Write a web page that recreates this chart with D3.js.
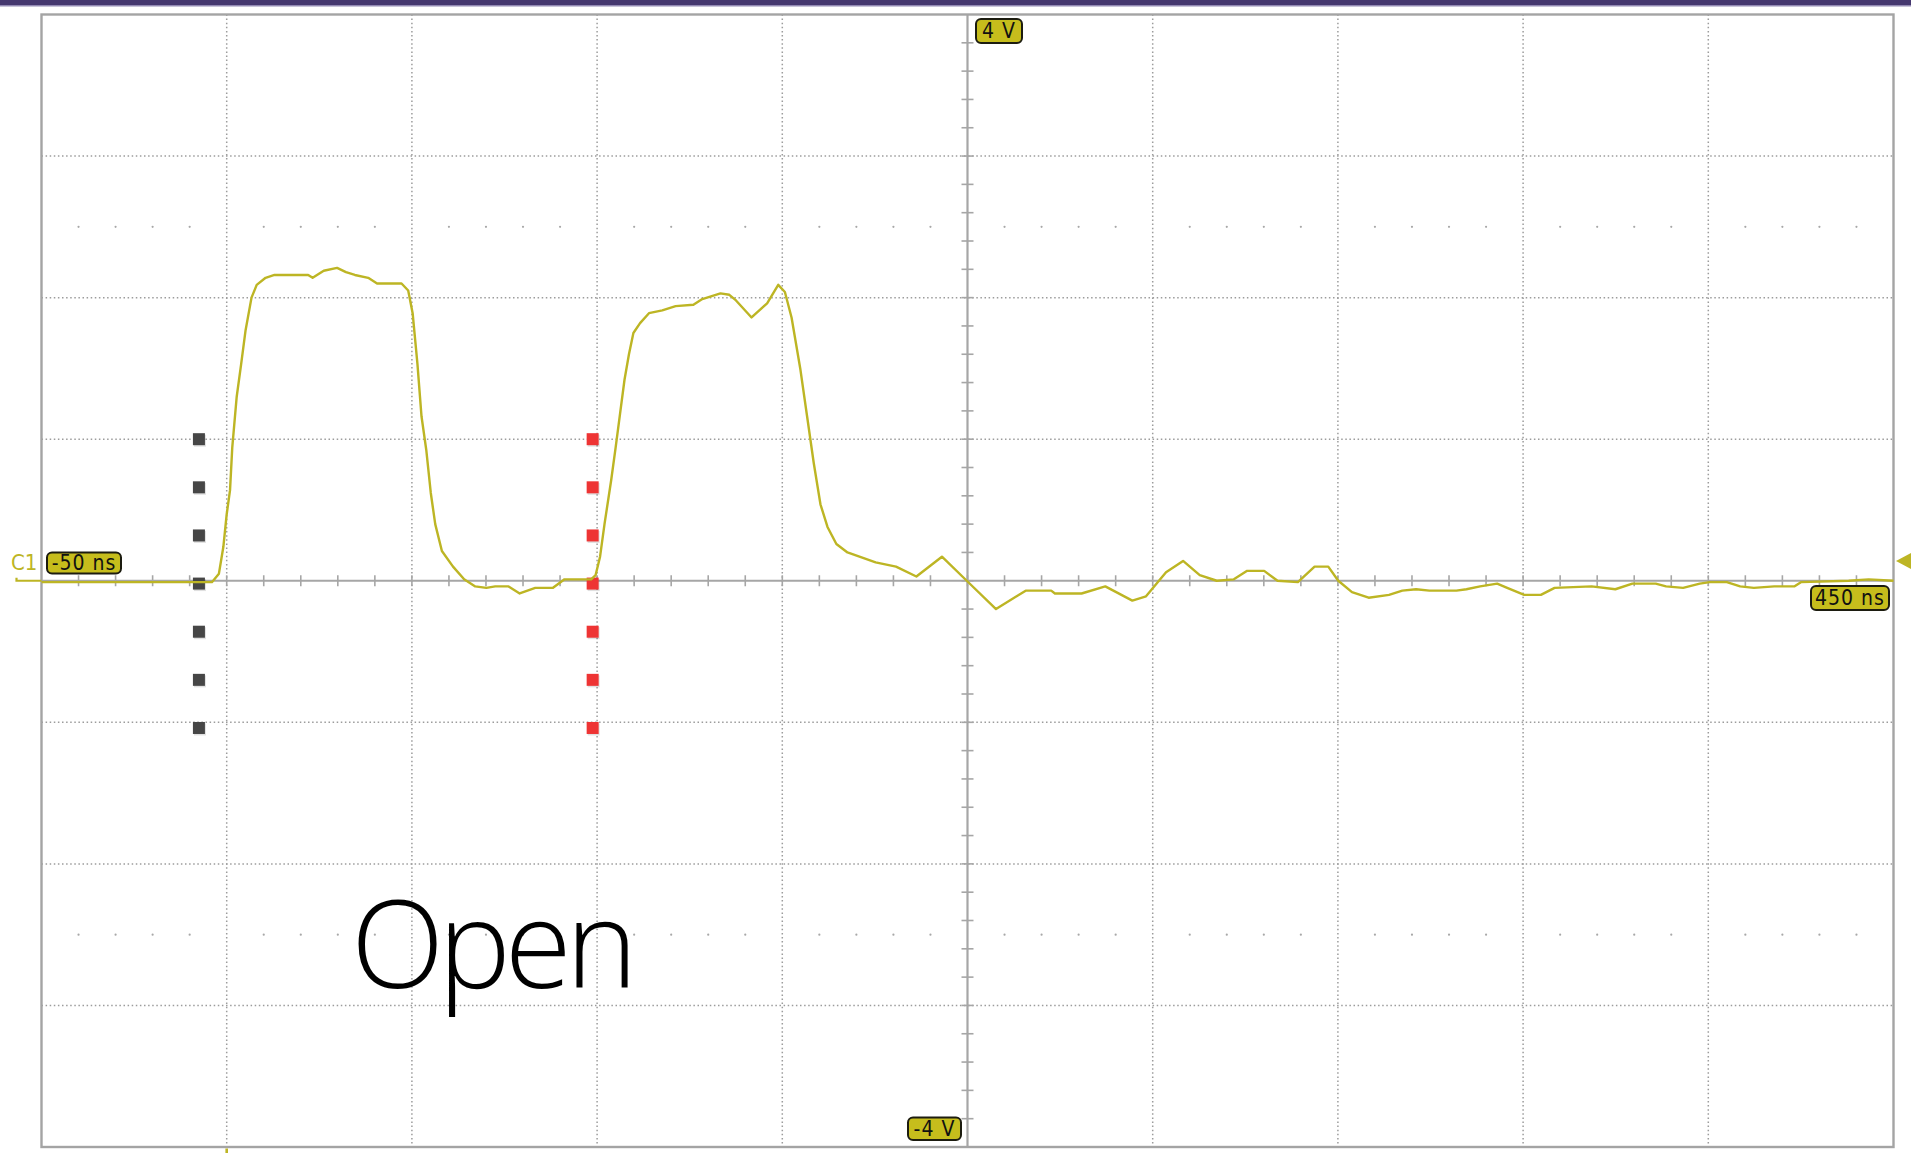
<!DOCTYPE html>
<html>
<head>
<meta charset="utf-8">
<script src="https://cdn.jsdelivr.net/npm/d3@7/dist/d3.min.js"></script>
<style>
  html, body { margin: 0; padding: 0; background: #ffffff; }
  svg { display: block; }
</style>
</head>
<body>
<svg id="chart" width="1911" height="1153"></svg>
<script>
// ---------- data ----------
const timeDomainNs = [-50, 450];          // horizontal span of the screen
const voltDomain = [-4, 4];               // vertical span of the screen
const timeDivisionsNs = [-50, 0, 50, 100, 150, 200, 250, 300, 350, 400, 450];
const voltDivisions = [-4, -3, -2, -1, 0, 1, 2, 3, 4];

const timeNs = [-50, -4, -2.1, -0.9, 0, 0.9, 1.5, 2.7, 3.9, 5.1, 6.7, 8.1, 10.5, 12.9, 22, 23.2, 26.2, 29.8, 32.2, 34.6,
  38.2, 40.6, 47.2, 49.0, 50.2, 51.5, 52.6, 53.9, 55.1, 56.3, 58.1, 61.1, 64.1, 67.1, 70.1, 72.5, 76.1, 79.1, 83.3, 88.1,
  91.2, 98.4, 99.6, 100.8, 102, 103.8, 105, 106.2, 107.4, 108.6, 109.8, 111.6, 114, 117.6, 121.2, 126, 128.4, 133.3, 135.7, 137.5,
  141.7, 145.9, 148.9, 150.7, 152.5, 154.9, 156.7, 158.5, 160.3, 162.2, 164.6, 167.6, 175.2, 180.7, 186.2, 193.1, 199.8, 207.7, 215.7, 222.6,
  223.6, 230.8, 237.2, 244.5, 248.2, 253.6, 258.2, 262.7, 267.3, 271.9, 275.5, 280.1, 283.7, 289.2, 293.7, 297.4, 300.1, 303.8, 308.3, 313.8,
  317.4, 321.1, 324.7, 332, 334.7, 338.4, 343, 345.7, 350.3, 354.8, 358.5, 368.5, 374.9, 379.5, 385.8, 388.6, 393.2, 397.7, 400.4, 405,
  408.6, 412.3, 417.8, 423.2, 425, 437.9, 443.3, 450];
const voltsC1 = [-0.01, -0.01, 0.05, 0.24, 0.47, 0.64, 0.94, 1.30, 1.53, 1.77, 2.00, 2.09, 2.14, 2.16, 2.16, 2.14, 2.19, 2.21, 2.18, 2.16,
  2.14, 2.10, 2.10, 2.05, 1.89, 1.53, 1.16, 0.92, 0.62, 0.40, 0.21, 0.10, 0.01, -0.04, -0.05, -0.04, -0.04, -0.09, -0.05, -0.05,
  0.01, 0.01, 0.04, 0.17, 0.40, 0.71, 0.94, 1.18, 1.42, 1.60, 1.75, 1.82, 1.89, 1.91, 1.94, 1.95, 1.99, 2.03, 2.02, 1.98,
  1.86, 1.96, 2.09, 2.04, 1.86, 1.49, 1.16, 0.83, 0.54, 0.38, 0.26, 0.20, 0.13, 0.10, 0.03, 0.17, 0.00, -0.20, -0.07, -0.07,
  -0.09, -0.09, -0.04, -0.14, -0.11, 0.06, 0.14, 0.04, 0.00, 0.01, 0.07, 0.07, 0.00, -0.01, 0.10, 0.10, 0.00, -0.08, -0.12, -0.10,
  -0.07, -0.06, -0.07, -0.07, -0.06, -0.04, -0.02, -0.05, -0.10, -0.10, -0.05, -0.04, -0.06, -0.02, -0.02, -0.04, -0.05, -0.02, -0.01, -0.01,
  -0.04, -0.05, -0.04, -0.04, -0.01, 0.00, 0.01, 0.00];

const markerTimesNs = [-7.5, 98.8];           // dotted marker columns
const markerColors = ["#464646", "#ee3434"];
const markerLevelsV = [1.0, 0.66, 0.32, -0.02, -0.36, -0.70, -1.04];

const triggerLevelV = 0.14;
const triggerTimeNs = 0;
const labelTopV = "4 V";
const labelBottomV = "-4 V";
const labelLeftTime = "-50 ns";
const labelRightTime = "450 ns";
const channelName = "C1";
const annotationText = "Open";

// ---------- layout ----------
const svg = d3.select("#chart");
const plotL = 41.5, plotR = 1893.5, plotT = 14.5, plotB = 1147;
const x = d3.scaleLinear().domain(timeDomainNs).range([plotL, plotR]);
const y = d3.scaleLinear().domain(voltDomain).range([plotB, plotT]);

const traceColor = "#bdb524";
const gridColor = "#9c9c9c";
const axisColor = "#a6a6a6";

// top purple band
svg.append("rect").attr("x", 0).attr("y", 0).attr("width", 1911).attr("height", 5).attr("fill", "#45386f");
svg.append("rect").attr("x", 0).attr("y", 5).attr("width", 1911).attr("height", 1.5).attr("fill", "#9289b3");

// dotted grid (vertical)
svg.append("g").selectAll("line").data(timeDivisionsNs.slice(1, -1).filter(t => t !== 200))
  .join("line")
  .attr("x1", d => x(d)).attr("x2", d => x(d)).attr("y1", plotT).attr("y2", plotB)
  .attr("stroke", gridColor).attr("stroke-width", 1.5).attr("stroke-dasharray", "1.5,2.6");
// dotted grid (horizontal)
svg.append("g").selectAll("line").data(voltDivisions.slice(1, -1).filter(v => v !== 0))
  .join("line")
  .attr("y1", d => y(d)).attr("y2", d => y(d)).attr("x1", plotL).attr("x2", plotR)
  .attr("stroke", gridColor).attr("stroke-width", 1.5).attr("stroke-dasharray", "1.5,2.6");

// rows of sparse dots at +/-2.5 div
const dotTimes = d3.range(-40, 450, 10).filter(t => Math.abs(t % 50) > 1e-6);
[2.5, -2.5].forEach(v => {
  svg.append("g").selectAll("circle").data(dotTimes).join("circle")
    .attr("cx", d => x(d)).attr("cy", y(v)).attr("r", 1.1).attr("fill", "#a8a8a8");
});

// center axes with minor ticks
const cx = x(200), cy = y(0);
svg.append("line").attr("x1", plotL).attr("x2", plotR).attr("y1", cy).attr("y2", cy)
  .attr("stroke", axisColor).attr("stroke-width", 2.2);
svg.append("line").attr("x1", cx).attr("x2", cx).attr("y1", plotT).attr("y2", plotB)
  .attr("stroke", axisColor).attr("stroke-width", 2.2);
const minorT = d3.range(-40, 450, 10);
svg.append("g").selectAll("line").data(minorT).join("line")
  .attr("x1", d => x(d)).attr("x2", d => x(d)).attr("y1", cy - 5.5).attr("y2", cy + 5.5)
  .attr("stroke", axisColor).attr("stroke-width", 1.6);
const minorV = d3.range(-3.8, 4, 0.2);
svg.append("g").selectAll("line").data(minorV).join("line")
  .attr("y1", d => y(d)).attr("y2", d => y(d)).attr("x1", cx - 6).attr("x2", cx + 6)
  .attr("stroke", axisColor).attr("stroke-width", 1.6);

// border
svg.append("rect").attr("x", plotL).attr("y", plotT).attr("width", plotR - plotL).attr("height", plotB - plotT)
  .attr("fill", "none").attr("stroke", "#a4a4a4").attr("stroke-width", 2.4);

// annotation text
svg.append("text").attr("x", 351).attr("y", 988)
  .attr("font-family", "'Open Sans', 'Noto Sans', sans-serif").attr("font-weight", 300)
  .attr("font-size", 122).attr("letter-spacing", -6).attr("fill", "#000").text(annotationText);

// marker squares
markerTimesNs.forEach((t, i) => {
  const g = svg.append("g");
  g.selectAll("rect.sh").data(markerLevelsV).join("rect").attr("class", "sh")
    .attr("x", x(t) - 5).attr("y", d => y(d) - 4.5).attr("width", 12).attr("height", 12)
    .attr("fill", "#000").attr("opacity", 0.12);
  g.selectAll("rect.m").data(markerLevelsV).join("rect").attr("class", "m")
    .attr("x", x(t) - 6).attr("y", d => y(d) - 6).attr("width", 12).attr("height", 12)
    .attr("fill", markerColors[i]);
});

// trace
const pts = timeNs.map((t, i) => [t, voltsC1[i]]);
svg.append("path").datum(pts)
  .attr("d", d3.line().x(d => x(d[0])).y(d => y(d[1])))
  .attr("fill", "none").attr("stroke", traceColor).attr("stroke-width", 2.4)
  .attr("stroke-linejoin", "round");

// ground marker left of screen + channel name
svg.append("path").attr("d", `M16.5,${cy - 3}V${cy}H${plotL}`)
  .attr("fill", "none").attr("stroke", traceColor).attr("stroke-width", 2.2);
svg.append("text").attr("x", 11).attr("y", 570)
  .attr("font-family", "'Liberation Sans Narrow', 'DejaVu Sans Condensed', sans-serif")
  .attr("font-size", 22).attr("fill", traceColor).text(channelName);

// trigger level triangle (right) and trigger position marker (bottom)
const ty = y(triggerLevelV);
svg.append("path").attr("d", `M1896,${ty}L1911,${ty - 8}L1911,${ty + 8}Z`).attr("fill", traceColor);
svg.append("rect").attr("x", x(triggerTimeNs) - 1.3).attr("y", plotB + 1.5).attr("width", 2.6).attr("height", 6)
  .attr("fill", traceColor);

// badges
function badge(x0, y0, w, h, label) {
  svg.append("rect").attr("x", x0).attr("y", y0).attr("width", w).attr("height", h)
    .attr("rx", 5).attr("ry", 5).attr("fill", "#c6bd1c").attr("stroke", "#1c1c10").attr("stroke-width", 2);
  svg.append("text").attr("x", x0 + w / 2).attr("y", y0 + h / 2 + 1)
    .attr("text-anchor", "middle").attr("dominant-baseline", "middle")
    .attr("font-family", "'Liberation Sans Narrow', 'DejaVu Sans Condensed', sans-serif")
    .attr("font-size", 21).attr("letter-spacing", 1).attr("fill", "#111").text(label);
}
badge(976, 19, 46, 24, labelTopV);
badge(908, 1117.5, 53, 22.5, labelBottomV);
badge(47, 552.5, 74, 21, labelLeftTime);
badge(1811, 586, 78, 24, labelRightTime);
</script>
</body>
</html>
